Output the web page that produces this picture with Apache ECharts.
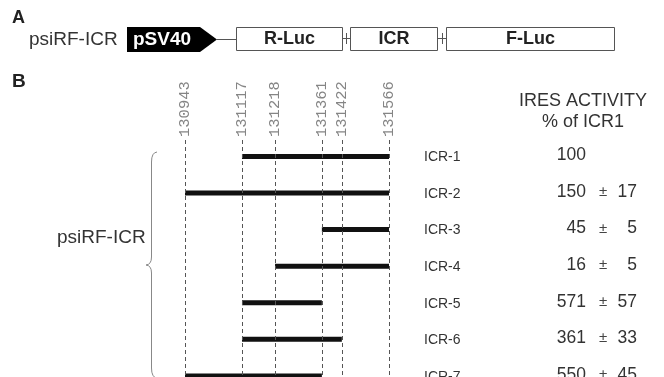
<!DOCTYPE html>
<html><head><meta charset="utf-8">
<script src="https://cdn.jsdelivr.net/npm/echarts@6/dist/echarts.min.js"></script>
<style>html,body{margin:0;padding:0;background:#fff}#c{width:664px;height:377px}</style>
</head><body><div id="c"></div>
<script>
// ---- data ----
const sites = [130943, 131117, 131218, 131361, 131422, 131566];
const constructs = ['ICR-1', 'ICR-2', 'ICR-3', 'ICR-4', 'ICR-5', 'ICR-6', 'ICR-7'];
const fragStart = [131117, 130943, 131361, 131218, 131117, 131117, 130943];
const fragEnd   = [131566, 131566, 131566, 131566, 131361, 131422, 131361];
const activity  = [100, 150, 45, 16, 571, 361, 550];
const activitySD = [null, 17, 5, 5, 57, 33, 45];
const vectorName = 'psiRF-ICR';
const mapSegments = ['pSV40', 'R-Luc', 'ICR', 'F-Luc'];

const SANS = '"Liberation Sans", Arial, sans-serif';
const MONO = '"Liberation Mono", "DejaVu Sans Mono", monospace';

const chart = echarts.init(document.getElementById('c'), null, {renderer: 'canvas'});

const option = {
  animation: false,
  backgroundColor: '#fff',
  grid: {left: 185, width: 204, top: 140, bottom: 0, outerBoundsMode: 'none'},
  xAxis: {type: 'value', min: sites[0], max: sites[sites.length - 1], show: false},
  yAxis: {type: 'value', inverse: true, min: -0.45, max: 6.03, show: false},
  series: [
    {
      type: 'line', data: [], silent: true,
      markLine: {
        silent: true, symbol: ['none', 'none'], animation: false,
        label: {show: false},
        lineStyle: {type: [4, 3], color: '#555', width: 1},
        data: sites.map(s => ({xAxis: s}))
      }
    },
    {
      type: 'scatter', symbolSize: 0, silent: true, clip: false,
      data: sites.map(s => [s, -0.45]),
      label: {
        show: true, position: 'top', distance: 3, rotate: 90,
        align: 'left', verticalAlign: 'middle',
        formatter: p => String(p.value[0]),
        fontFamily: MONO, fontSize: 15.5, color: '#666'
      }
    },
    {
      type: 'custom', silent: true, clip: false,
      data: constructs.map((c, i) => [fragStart[i], fragEnd[i], i]),
      renderItem: (params, api) => {
        const a = api.coord([api.value(0), api.value(2)]);
        const b = api.coord([api.value(1), api.value(2)]);
        return {type: 'rect', shape: {x: a[0], y: a[1] - 2.5, width: b[0] - a[0], height: 5},
                style: {fill: '#111'}};
      }
    }
  ]
};
chart.setOption(option);

// ---- static panel A and annotations ----
const g = [];
function txt(t, x, y, size, opts) {
  opts = opts || {};
  g.push({type: 'text', x: x, y: y, silent: true, style: {
    text: t, fill: opts.color || '#333', fontSize: size, fontFamily: opts.family || SANS,
    fontWeight: opts.weight || 'normal', textAlign: opts.align || 'left', textVerticalAlign: 'middle'
  }});
}
function seg(x1, y1, x2, y2, color) {
  g.push({type: 'line', silent: true, shape: {x1: x1, y1: y1, x2: x2, y2: y2}, style: {stroke: color || '#555', lineWidth: 1}});
}
function curve(x1, y1, cx, cy, x2, y2) {
  g.push({type: 'bezierCurve', silent: true, shape: {x1: x1, y1: y1, cpx1: cx, cpy1: cy, x2: x2, y2: y2},
    style: {stroke: '#888', lineWidth: 1, fill: null}});
}
txt('A', 12, 18, 18, {weight: 'bold', color: '#222'});
txt('B', 12, 82, 19, {weight: 'bold', color: '#222'});
txt(vectorName, 29, 40, 19);

// pSV40 promoter arrow
g.push({type: 'polygon', silent: true, shape: {points: [[127, 27], [200, 27], [217, 39.5], [200, 52], [127, 52]]}, style: {fill: '#000'}});
txt(mapSegments[0], 133, 40, 19, {weight: 'bold', color: '#fff'});
seg(217, 39.5, 236, 39.5);
const boxes = [[236.5, 342.5], [350.5, 437.5], [446.5, 614.5]];
boxes.forEach((b, i) => {
  g.push({type: 'rect', silent: true, shape: {x: b[0], y: 27.5, width: b[1] - b[0], height: 23}, style: {fill: '#fff', stroke: '#555', lineWidth: 1}});
  txt(mapSegments[i + 1], (b[0] + b[1]) / 2, 39, 18, {weight: 'bold', color: '#222', align: 'center'});
});
[[342.5, 350.5, 346.5], [437.5, 446.5, 442.5]].forEach(c => {
  seg(c[0], 38.5, c[1], 38.5);
  seg(c[2], 33, c[2], 44);
});

// brace + label
curve(157, 152, 151.5, 152.5, 151.5, 162);
seg(151.5, 162, 151.5, 257, '#888');
curve(151.5, 257, 151.5, 264.5, 146, 265);
curve(146, 265, 151.5, 265.5, 151.5, 273);
seg(151.5, 273, 151.5, 368, '#888');
curve(151.5, 368, 151.5, 377.5, 157, 378);
txt(vectorName, 57, 238, 19);

// header
txt('IRES ACTIVITY', 583, 101, 18, {align: 'center'});
txt('% of ICR1', 583, 122, 18, {align: 'center'});

// table rows
constructs.forEach((c, i) => {
  const y = chart.convertToPixel({yAxisIndex: 0}, i);
  txt(c, 424, y + 1, 14);
  txt(String(activity[i]), 586, y - 1, 17.5, {align: 'right'});
  if (activitySD[i] != null) {
    txt('\u00b1', 603, y - 1, 15, {align: 'center', color: '#444'});
    txt(String(activitySD[i]), 637, y - 1, 17.5, {align: 'right'});
  }
});
chart.setOption({graphic: g});
</script></body></html>
